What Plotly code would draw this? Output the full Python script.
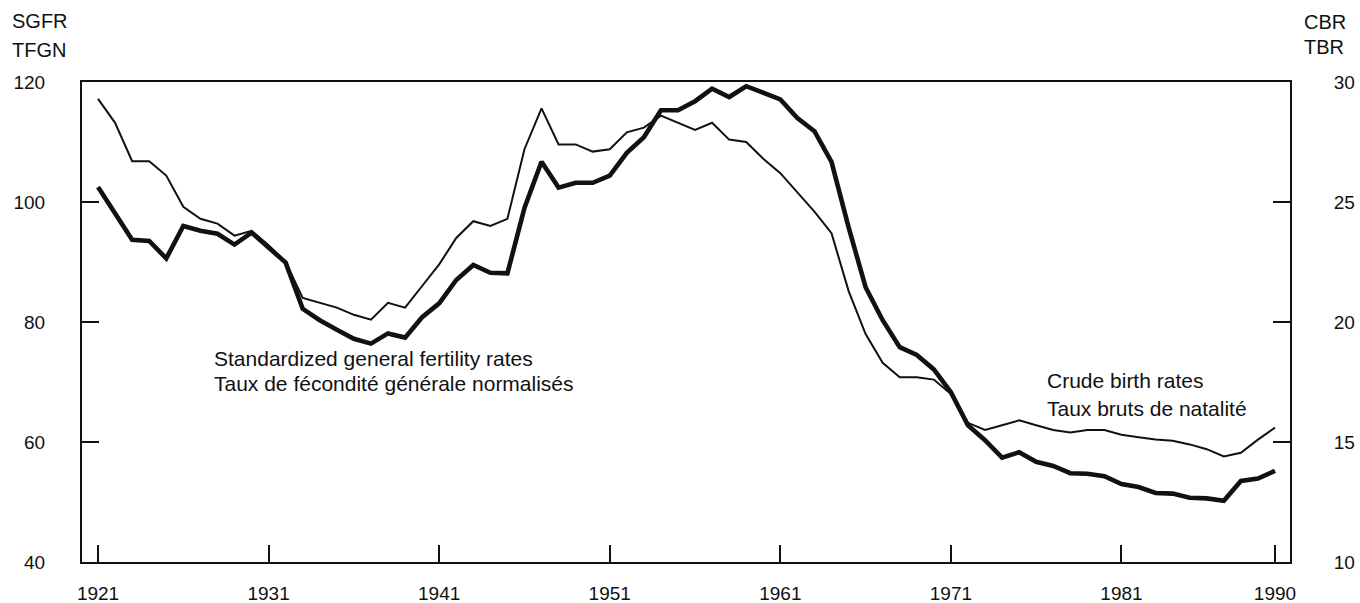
import plotly.graph_objects as go

years = list(range(1921, 1991))

# Standardized general fertility rates (left axis, thick line)
sgfr = [102.5, 98.0, 93.7, 93.5, 90.6, 96.0, 95.2, 94.7, 92.9, 94.9,
        92.5, 89.9, 82.2, 80.3, 78.7, 77.2, 76.4, 78.1, 77.4, 80.8,
        83.1, 87.0, 89.5, 88.2, 88.1, 99.0, 106.7, 102.4, 103.2, 103.2,
        104.4, 108.2, 110.8, 115.3, 115.3, 116.8, 118.9, 117.5, 119.3, 118.3,
        117.1, 114.0, 111.8, 106.7, 95.8, 85.8, 80.3, 75.8, 74.5, 72.1,
        68.3, 62.8, 60.3, 57.4, 58.3, 56.7, 56.0, 54.8, 54.7, 54.3,
        53.0, 52.5, 51.5, 51.4, 50.7, 50.6, 50.2, 53.5, 53.9, 55.2]

# Crude birth rates (right axis, thin line)
cbr = [29.3, 28.3, 26.7, 26.7, 26.1, 24.8, 24.3, 24.1, 23.6, 23.8,
       23.2, 22.5, 21.0, 20.8, 20.6, 20.3, 20.1, 20.8, 20.6, 21.5,
       22.4, 23.5, 24.2, 24.0, 24.3, 27.2, 28.9, 27.4, 27.4, 27.1,
       27.2, 27.9, 28.1, 28.6, 28.3, 28.0, 28.3, 27.6, 27.5, 26.8,
       26.2, 25.4, 24.6, 23.7, 21.3, 19.5, 18.3, 17.7, 17.7, 17.6,
       17.0, 15.8, 15.5, 15.7, 15.9, 15.7, 15.5, 15.4, 15.5, 15.5,
       15.3, 15.2, 15.1, 15.05, 14.9, 14.7, 14.4, 14.55, 15.1, 15.6]

x_ticks = [1921, 1931, 1941, 1951, 1961, 1971, 1981, 1990]
left_ticks = [40, 60, 80, 100, 120]
right_ticks = [10, 15, 20, 25, 30]

INK = "#111111"
FONT = "Liberation Sans, Arial, Helvetica, sans-serif"

fig = go.Figure()
fig.add_trace(go.Scatter(x=years, y=cbr, mode="lines", yaxis="y2",
                         line=dict(color=INK, width=2), name="CBR"))
fig.add_trace(go.Scatter(x=years, y=sgfr, mode="lines", yaxis="y",
                         line=dict(color=INK, width=4.6), name="SGFR"))

W, H = 1360, 603
ML, MT = 82, 82
PW, PH = 1208, 480
MR = W - ML - PW
MB = H - MT - PH


def px(xp):
    return (xp - ML) / PW


def py(yp):
    return (MT + PH - yp) / PH


axis_common = dict(showgrid=False, zeroline=False, showline=True,
                   linecolor=INK, linewidth=2, ticks="inside", ticklen=17,
                   tickwidth=2, tickcolor=INK, automargin=False,
                   tickfont=dict(family=FONT, size=19, color=INK))

fig.update_layout(
    width=W, height=H, autosize=False,
    margin=dict(l=ML, r=MR, t=MT, b=MB, autoexpand=False),
    paper_bgcolor="white", plot_bgcolor="white",
    showlegend=False,
    xaxis=dict(range=[1920.06, 1990.88], tickvals=x_ticks, mirror=True,
               ticklabelstandoff=13, **axis_common),
    yaxis=dict(range=[40, 120], tickvals=left_ticks, side="left",
               ticklabelstandoff=31, **axis_common),
    yaxis2=dict(range=[10, 30], tickvals=right_ticks, side="right",
                overlaying="y", ticklabelstandoff=38, **axis_common),
)

ann_font = dict(family=FONT, size=21, color=INK)
hdr_font = dict(family=FONT, size=20, color=INK)
annotations = [
    dict(text="SGFR", x=px(10), y=py(21), xref="paper", yref="paper",
         xanchor="left", yanchor="middle", showarrow=False, font=hdr_font),
    dict(text="TFGN", x=px(10), y=py(50), xref="paper", yref="paper",
         xanchor="left", yanchor="middle", showarrow=False, font=hdr_font),
    dict(text="CBR", x=px(1348), y=py(22), xref="paper", yref="paper",
         xanchor="right", yanchor="middle", showarrow=False, font=hdr_font),
    dict(text="TBR", x=px(1346), y=py(47), xref="paper", yref="paper",
         xanchor="right", yanchor="middle", showarrow=False, font=hdr_font),
    dict(text="Standardized general fertility rates", x=1927.7, y=73.9,
         xref="x", yref="y", xanchor="left", yanchor="middle",
         showarrow=False, font=ann_font),
    dict(text="Taux de fécondité générale normalisés", x=1927.7, y=69.8,
         xref="x", yref="y", xanchor="left", yanchor="middle",
         showarrow=False, font=ann_font),
    dict(text="Crude birth rates", x=1976.5, y=70.3,
         xref="x", yref="y", xanchor="left", yanchor="middle",
         showarrow=False, font=ann_font),
    dict(text="Taux bruts de natalité", x=1976.5, y=65.6,
         xref="x", yref="y", xanchor="left", yanchor="middle",
         showarrow=False, font=ann_font),
]
fig.update_layout(annotations=annotations)

fig.write_html("out.html",
               config={"displayModeBar": False},
               post_script="document.body.style.margin='0px';"
                           "document.body.style.overflow='hidden';")
